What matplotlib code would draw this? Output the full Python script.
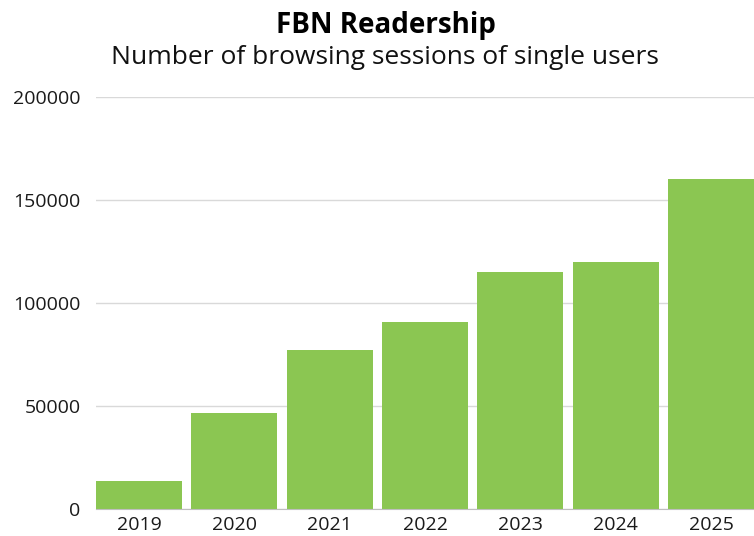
import matplotlib
matplotlib.use("Agg")
import matplotlib.pyplot as plt

# data
years = ["2019", "2020", "2021", "2022", "2023", "2024", "2025"]
sessions = [13500, 46500, 77000, 91000, 115000, 120000, 160000]
yticks = [0, 50000, 100000, 150000, 200000]

plt.rcParams["font.family"] = ["Open Sans", "DejaVu Sans"]

fig = plt.figure(figsize=(7.54, 5.36), dpi=100)
ax = fig.add_axes([96 / 754, 27 / 536, 658 / 754, 412 / 536])

x = range(len(years))
ax.bar(x, sessions, width=0.9, color="#8bc652", zorder=3)

ax.set_xlim(-0.45, 6.45)
ax.set_ylim(0, 200000)
ax.set_yticks(yticks)
ax.set_yticklabels([str(v) for v in yticks])
ax.set_xticks(list(x))
ax.set_xticklabels(years)
ax.tick_params(length=0, labelsize=14, colors="#1a1a1a")
ax.tick_params(axis="y", pad=11)
ax.tick_params(axis="x", pad=5)

ax.grid(axis="y", color="#d9d9d9", linewidth=1, zorder=0)
for side in ["top", "right", "left"]:
    ax.spines[side].set_visible(False)
ax.spines["bottom"].set_color("#bfbfbf")
ax.spines["bottom"].set_zorder(4)

fig.text(386 / 754, 1 - 25 / 536, "FBN Readership", ha="center", va="center",
         fontsize=20, fontweight="bold", color="#000000")
fig.text(385 / 754, 1 - 58 / 536, "Number of browsing sessions of single users",
         ha="center", va="center", fontsize=19, color="#111111")

fig.savefig("out.png", dpi=100)
